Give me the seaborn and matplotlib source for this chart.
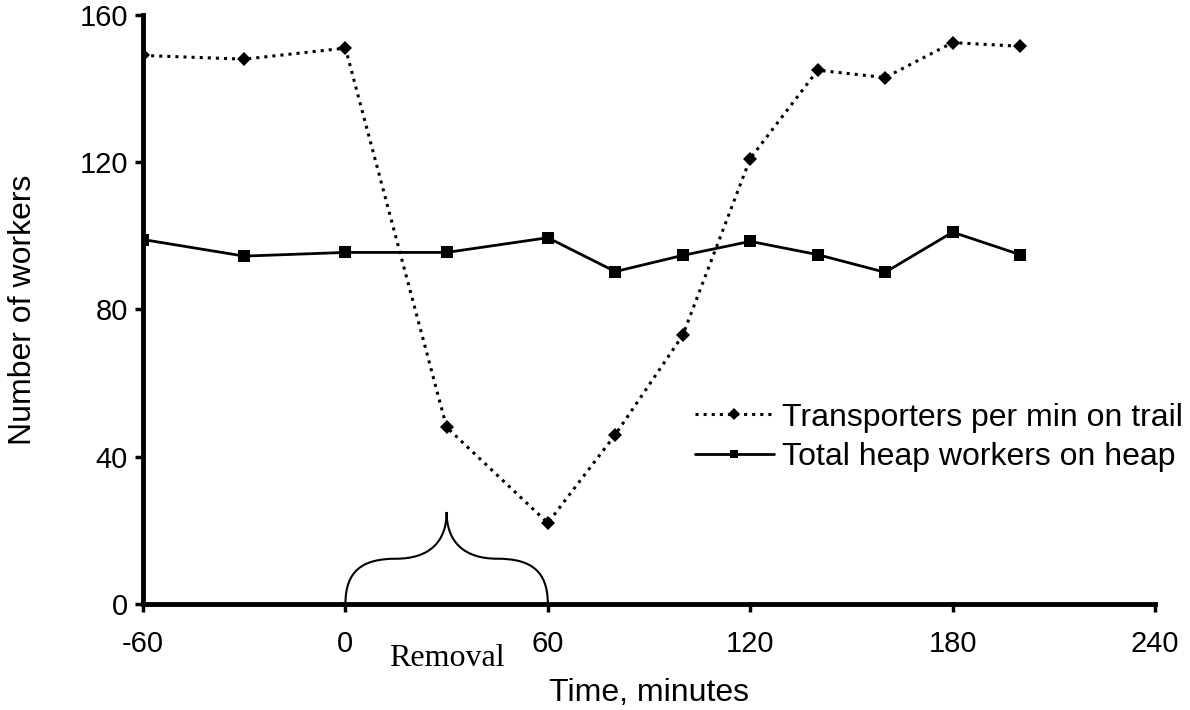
import numpy as np
import pandas as pd
import matplotlib
matplotlib.use("Agg")
import matplotlib.pyplot as plt
from matplotlib.path import Path
from matplotlib.patches import PathPatch
import seaborn as sns

# Time relative to removal, minutes
time_min = [-60, -30, 0, 30, 60, 80, 100, 120, 140, 160, 180, 200]
# Transporters per minute on the trail
transporters = [149, 148, 151, 48, 22, 46, 73, 121, 145, 143, 152.5, 151.5]
# Total heap workers on the heap
heap_workers = [99, 94.5, 95.5, 95.5, 99.5, 90.3, 94.7, 98.5, 94.9, 90.1, 101, 94.9]

x_ticks = [-60, 0, 60, 120, 180, 240]
y_ticks = [0, 40, 80, 120, 160]

sns.set_style("white")
plt.rcParams["font.family"] = ["Liberation Sans", "DejaVu Sans"]
plt.rcParams["axes.unicode_minus"] = False
plt.rcParams["text.color"] = "black"
plt.rcParams["axes.labelcolor"] = "black"

df = pd.DataFrame({"time": time_min, "trans": transporters, "heap": heap_workers})

fig = plt.figure(figsize=(11.9, 7.1), dpi=100)
ax = fig.add_axes([0.1202, 0.1493, 0.8504, 0.8296])

sns.lineplot(data=df, x="time", y="trans", ax=ax, color="black", linestyle=":",
             linewidth=2.2, marker="D", markersize=7, markeredgewidth=0,
             label="Transporters per min on trail")
sns.lineplot(data=df, x="time", y="heap", ax=ax, color="black", linestyle="-",
             linewidth=2, marker="s", markersize=8, markeredgewidth=0,
             label="Total heap workers on heap")

ax.set_xlim(-60, 240)
ax.set_ylim(0, 160)
ax.set_xticks(x_ticks)
ax.set_yticks(y_ticks)
ax.tick_params(axis="both", which="major", bottom=True, left=True, direction="out",
               length=6, width=2.5, color="black", labelcolor="black",
               labelsize=21, pad=5)
ax.tick_params(axis="x", pad=13)

for side in ("top", "right"):
    ax.spines[side].set_visible(False)
for side in ("left", "bottom"):
    ax.spines[side].set_linewidth(3.5)
    ax.spines[side].set_color("black")

ax.set_xlabel("Time, minutes", fontsize=23, labelpad=14)
ax.set_ylabel("Number of workers", fontsize=23, labelpad=30)

# Brace marking the removal period (0-60 min)
verts = [
    (0, 0), (0, 9), (5, 12.3), (15, 12.3),
    (25, 12.3), (30, 17), (30, 25),
    (30, 17), (35, 12.3), (45, 12.3),
    (55, 12.3), (60, 9), (60, 0),
]
codes = [Path.MOVETO] + [Path.CURVE4] * 12
ax.add_patch(PathPatch(Path(verts, codes), facecolor="none", edgecolor="black",
                       linewidth=1.5, clip_on=False))
ax.text(30, -11, "Removal", ha="center", va="top", fontsize=23,
        family=["Liberation Serif", "DejaVu Serif"], clip_on=False)

leg = ax.legend(loc="center left", bbox_to_anchor=(0.545, 0.283), frameon=False,
                fontsize=23, handlelength=2.5, handletextpad=0.25, labelspacing=0.3,
                borderaxespad=0, borderpad=0)
for h in leg.legend_handles:
    h.set_markersize(6)

fig.savefig("out.png", dpi=100, facecolor="white")
